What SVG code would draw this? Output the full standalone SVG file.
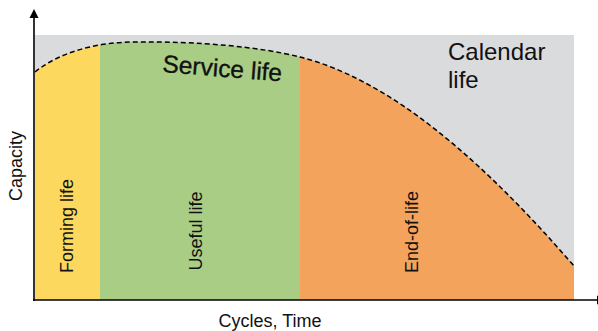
<svg xmlns="http://www.w3.org/2000/svg" width="598" height="331" viewBox="0 0 598 331">
<style>
.lbl{font-family:"Liberation Sans",Arial,sans-serif;fill:#111;}
.ax{stroke:#000;stroke-width:1.6;fill:none;}
.curve{stroke:#000;stroke-width:1.5;fill:none;stroke-dasharray:5 3;}
</style>
<defs>
<marker id="arrbig" viewBox="0 0 10 10" refX="0" refY="5" markerWidth="9" markerHeight="10" orient="auto" markerUnits="userSpaceOnUse">
<path d="M0,0 L10,5 L0,10 Z" fill="#000"/>
</marker>
<clipPath id="under">
<path d="M35,72 C60,52 95,43 130,42 C200,41 260,47 300,57 C391,80 483,161 574,266 L574,300 L35,300 Z"/>
</clipPath>
</defs>
<g id="calendar">
<rect x="35" y="35" width="539" height="265" fill="#dadbdd"/>
<text class="lbl" x="448" y="60" font-size="24">Calendar</text>
<text class="lbl" x="448" y="88" font-size="24">life</text>
</g>
<g id="regions" clip-path="url(#under)">
<rect id="forming" x="35" y="30" width="65" height="270" fill="#fdd85e"/>
<rect id="useful" x="100" y="30" width="200" height="270" fill="#a9cd85"/>
<rect id="eol" x="300" y="30" width="274" height="270" fill="#f4a35c"/>
</g>
<g id="labels">
<text class="lbl" font-size="18" text-anchor="middle" transform="translate(73,226) rotate(-90)">Forming life</text>
<text class="lbl" font-size="18" text-anchor="middle" transform="translate(202,231) rotate(-90)">Useful life</text>
<text class="lbl" font-size="18" text-anchor="middle" transform="translate(418,232) rotate(-90)">End-of-life</text>
<text class="lbl" font-size="24.5" stroke="#111" stroke-width="0.35" transform="translate(162,72) rotate(4.5)">Service life</text>
</g>
<g id="connectors">
<path class="curve" d="M35,72 C60,52 95,43 130,42 C200,41 260,47 300,57 C391,80 483,161 574,266"/>
<line class="ax" x1="34" y1="301" x2="34" y2="18" marker-end="url(#arrbig)"/>
<line class="ax" x1="33" y1="300" x2="597" y2="300" marker-end="url(#arrbig)"/>
</g>
<g id="axis-labels">
<text class="lbl" font-size="18" text-anchor="middle" transform="translate(22,166) rotate(-90)">Capacity</text>
<text class="lbl" font-size="18" text-anchor="middle" x="270" y="327">Cycles, Time</text>
</g>
</svg>
